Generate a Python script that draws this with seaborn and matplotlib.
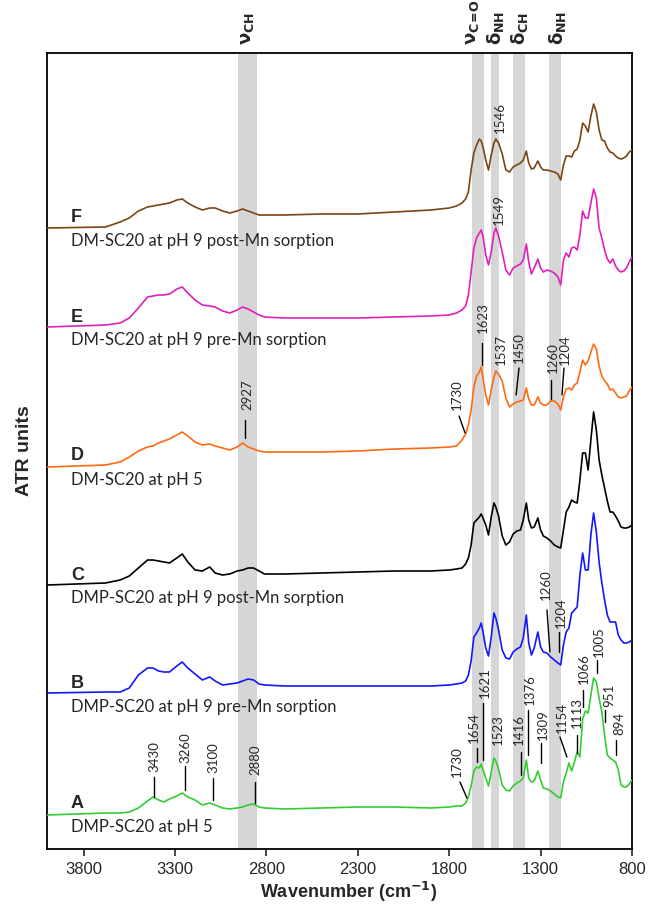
import numpy as np
import pandas as pd
import matplotlib
matplotlib.use("Agg")
import matplotlib.pyplot as plt
import seaborn as sns

# ---------------- data ----------------
wavenumber = [4000, 3680, 3600, 3550, 3500, 3450, 3420, 3390, 3360, 3330,
              3290, 3260, 3230, 3190, 3150, 3110, 3080, 3040, 3000, 2960,
              2930, 2900, 2870, 2840, 2810, 2700, 2500, 2300, 2100, 1900,
              1800, 1760, 1730,
              1710, 1695, 1680, 1665, 1650, 1635, 1625, 1615, 1600, 1585,
              1570, 1555, 1545, 1530, 1510, 1490, 1470, 1450, 1430, 1410,
              1395, 1378, 1365, 1350, 1335, 1315, 1300, 1285, 1265, 1245,
              1225, 1205, 1190, 1175, 1160, 1145, 1130, 1115, 1100, 1085,
              1070, 1055, 1040, 1025, 1010, 995, 980, 965, 950, 935,
              920, 905, 890, 875, 860, 845, 830, 815, 800]

spec_A = [34, 36, 36, 37, 41, 48, 52, 49, 47, 50,
          53, 56, 52, 49, 44, 46, 44, 41, 40, 41,
          42, 44, 45, 42, 41, 40, 41, 42, 42, 41,
          42, 43, 43,
          46, 52, 63, 78, 82, 81, 85, 79, 71, 63,
          77, 91, 88, 80, 64, 59, 58, 63, 66, 68,
          71, 89, 71, 67, 68, 78, 69, 61, 60, 58,
          55, 52, 51, 67, 76, 86, 78, 87, 97, 92,
          130, 138, 136, 154, 171, 167, 151, 137, 114, 94,
          91, 89, 87, 79, 64, 62, 62, 65, 69]

spec_B = [156, 157, 157, 161, 174, 181, 181, 178, 177, 177,
          183, 187, 181, 175, 169, 172, 168, 164, 165, 166,
          168, 170, 169, 165, 164, 163, 163, 163, 163, 163,
          164, 165, 166,
          168, 174, 188, 212, 216, 221, 226, 217, 201, 193,
          212, 236, 231, 219, 199, 191, 190, 197, 200, 202,
          211, 234, 206, 194, 201, 217, 202, 197, 196, 192,
          189, 186, 184, 204, 217, 221, 236, 239, 242, 274,
          296, 279, 279, 314, 336, 317, 287, 266, 249, 234,
          227, 227, 227, 214, 209, 206, 206, 207, 209]

spec_C = [264, 266, 269, 273, 281, 289, 289, 288, 287, 286,
          291, 295, 287, 279, 278, 282, 276, 274, 275, 278,
          279, 281, 281, 278, 275, 275, 276, 277, 278, 278,
          279, 280, 281,
          285, 291, 304, 326, 329, 332, 335, 331, 324, 314,
          332, 346, 342, 333, 313, 304, 307, 315, 318, 319,
          329, 346, 329, 321, 322, 331, 319, 313, 311, 308,
          304, 302, 301, 319, 337, 342, 349, 347, 346, 369,
          396, 396, 379, 409, 437, 419, 389, 374, 361, 348,
          337, 337, 333, 328, 322, 321, 321, 322, 324]

spec_D = [382, 384, 387, 392, 398, 402, 403, 406, 408, 410,
          414, 417, 413, 407, 404, 405, 403, 401, 399, 402,
          406, 402, 400, 398, 397, 397, 397, 398, 400, 401,
          402, 403, 409,
          415, 424, 439, 462, 473, 477, 482, 471, 454, 444,
          459, 472, 478, 475, 468, 451, 442, 445, 447, 448,
          449, 461, 450, 444, 444, 452, 446, 444, 444, 448,
          448, 445, 439, 452, 460, 461, 459, 464, 466, 477,
          489, 484, 488, 497, 505, 500, 483, 473, 468, 465,
          459, 460, 456, 452, 451, 452, 453, 458, 462]

spec_E = [522, 524, 526, 531, 541, 552, 553, 554, 554, 555,
          560, 562, 556, 549, 544, 543, 542, 538, 536, 539,
          542, 540, 537, 534, 532, 531, 531, 531, 532, 533,
          534, 536, 539,
          543, 554, 577, 601, 611, 616, 619, 613, 594, 584,
          597, 616, 621, 613, 597, 579, 574, 581, 583, 585,
          589, 605, 587, 575, 581, 590, 581, 577, 579, 578,
          576, 572, 564, 589, 596, 592, 601, 602, 599, 614,
          638, 631, 631, 646, 660, 651, 621, 611, 599, 590,
          586, 590, 583, 579, 577, 578, 581, 587, 592]

spec_F = [621, 622, 627, 631, 638, 642, 643, 644, 645, 646,
          649, 650, 646, 642, 639, 641, 641, 638, 636, 638,
          640, 638, 636, 634, 634, 634, 635, 635, 637, 639,
          641, 643, 646,
          650, 657, 679, 696, 704, 710, 708, 702, 689, 679,
          694, 706, 710, 706, 695, 679, 677, 682, 684, 686,
          689, 698, 686, 680, 681, 688, 682, 679, 679, 678,
          677, 675, 669, 684, 693, 693, 692, 698, 700, 709,
          726, 723, 717, 733, 745, 737, 719, 709, 708, 701,
          697, 696, 693, 691, 690, 691, 693, 697, 699]

samples = ["A", "B", "C", "D", "E", "F"]
sample_names = ["DMP-SC20 at pH 5",
                "DMP-SC20 at pH 9 pre-Mn sorption",
                "DMP-SC20 at pH 9 post-Mn sorption",
                "DM-SC20 at pH 5",
                "DM-SC20 at pH 9 pre-Mn sorption",
                "DM-SC20 at pH 9 post-Mn sorption"]
spectra = [spec_A, spec_B, spec_C, spec_D, spec_E, spec_F]

band_ranges = [(2955, 2851), (1674, 1610), (1570, 1530), (1449, 1383), (1255, 1189)]
band_labels = [r"$\mathbf{\nu_{CH}}$", r"$\mathbf{\nu_{C\!=\!O}}$", r"$\mathbf{\delta_{NH}}$",
               r"$\mathbf{\delta_{CH}}$", r"$\mathbf{\delta_{NH}}$"]
xticks = [3800, 3300, 2800, 2300, 1800, 1300, 800]

# ---------------- layout (annotations) ----------------
colors = {"A": "#33cc33", "B": "#1515ff", "C": "#000000",
          "D": "#ff6a10", "E": "#e020b8", "F": "#7a4512"}
band_label_x = [2905, 1670, 1549, 1418, 1210]
letter_y = {"A": 45, "B": 166, "C": 274, "D": 393, "E": 532, "F": 632}
name_y = {"A": 22, "B": 142, "C": 251, "D": 369, "E": 509, "F": 608}

# (text, text_x, text_bottom, line (x0, y0, x1, y1) or None)
peak_labels = [
    ("3430", 3412, 77, (3412, 52, 3412, 72)),
    ("3260", 3245, 86, (3245, 59, 3245, 83)),
    ("3100", 3092, 76, (3092, 49, 3092, 71)),
    ("2880", 2862, 74, (2862, 46, 2862, 67)),
    ("1730", 1757, 72, (1741, 67, 1703, 51)),
    ("1654", 1664, 106, (1648, 101, 1648, 87)),
    ("1621", 1604, 151, (1615, 146, 1615, 89)),
    ("1523", 1533, 104, None),
    ("1416", 1418, 104, (1407, 97, 1407, 74)),
    ("1376", 1358, 144, (1369, 139, 1369, 94)),
    ("1309", 1287, 109, (1298, 106, 1298, 86)),
    ("1154", 1183, 116, (1194, 112, 1156, 92)),
    ("1113", 1101, 121, (1101, 114, 1101, 96)),
    ("1066", 1063, 165, (1068, 159, 1068, 142)),
    ("1005", 981, 192, (991, 189, 991, 176)),
    ("951", 926, 142, (948, 139, 948, 127)),
    ("894", 871, 114, (888, 109, 888, 94)),
    ("1260", 1270, 249, (1265, 239, 1249, 197)),
    ("1204", 1188, 221, (1199, 217, 1199, 197)),
    ("2927", 2906, 439, (2917, 429, 2917, 411)),
    ("1730", 1757, 439, (1746, 433, 1713, 416)),
    ("1623", 1615, 516, (1620, 506, 1620, 484)),
    ("1537", 1517, 484, None),
    ("1450", 1418, 486, (1418, 481, 1434, 454)),
    ("1260", 1232, 476, (1243, 469, 1243, 450)),
    ("1204", 1166, 484, (1172, 481, 1183, 454)),
    ("1549", 1527, 624, None),
    ("1546", 1522, 716, None),
]

# ---------------- build figure ----------------
rows = []
for s, vals in zip(samples, spectra):
    for w, v in zip(wavenumber, vals):
        rows.append({"Wavenumber": w, "ATR": v, "sample": s})
df = pd.DataFrame(rows)

sns.set_theme(style="white")
plt.rcParams["font.family"] = ["Liberation Sans", "DejaVu Sans"]
plt.rcParams["mathtext.fontset"] = "dejavusans"

fig = plt.figure(figsize=(6.51, 9.07), dpi=100)
ax = fig.add_axes([47 / 651, 1 - 849 / 907, 585 / 651, 796 / 907])

for lo, hi in band_ranges:
    ax.axvspan(hi, lo, color="#d6d6d6", lw=0, zorder=0)

sns.lineplot(data=df, x="Wavenumber", y="ATR", hue="sample", palette=colors,
             estimator=None, sort=False, legend=False, ax=ax, lw=1.2, zorder=3)

ax.set_xlim(4000, 800)
ax.set_ylim(0, 796)
ax.set_xticks(xticks)
ax.set_xticklabels([str(t) for t in xticks], fontsize=12)
ax.set_yticks([])
ax.tick_params(axis="x", direction="out", length=5, width=1.2, bottom=True, pad=4)
for sp in ax.spines.values():
    sp.set_color("black")
    sp.set_linewidth(1.3)

ax.set_xlabel(r"Wavenumber (cm$^{\mathbf{-1}}$)", fontsize=13, fontweight="bold")
ax.xaxis.set_label_coords(0.515, -0.039)
ax.set_ylabel("ATR units", fontsize=14, fontweight="bold", labelpad=10)

trans = ax.get_xaxis_transform()
for lab, x in zip(band_labels, band_label_x):
    ax.text(x, 1.01, lab, rotation=90, ha="center", va="bottom", fontsize=13,
            transform=trans)

for s, name in zip(samples, sample_names):
    ax.text(3869, letter_y[s], s, fontsize=13, fontweight="bold", ha="left", va="center")
    ax.text(3869, name_y[s], name, fontsize=12, family=["Lato", "DejaVu Sans"],
            ha="left", va="center")

for txt, tx, ty, line in peak_labels:
    ax.text(tx, ty, txt, rotation=90, ha="center", va="bottom", fontsize=9.5,
            family=["Lato", "DejaVu Sans"], zorder=5)
    if line is not None:
        ax.plot([line[0], line[2]], [line[1], line[3]], color="black", lw=1.0, zorder=5)

fig.savefig("out.png", dpi=100)
